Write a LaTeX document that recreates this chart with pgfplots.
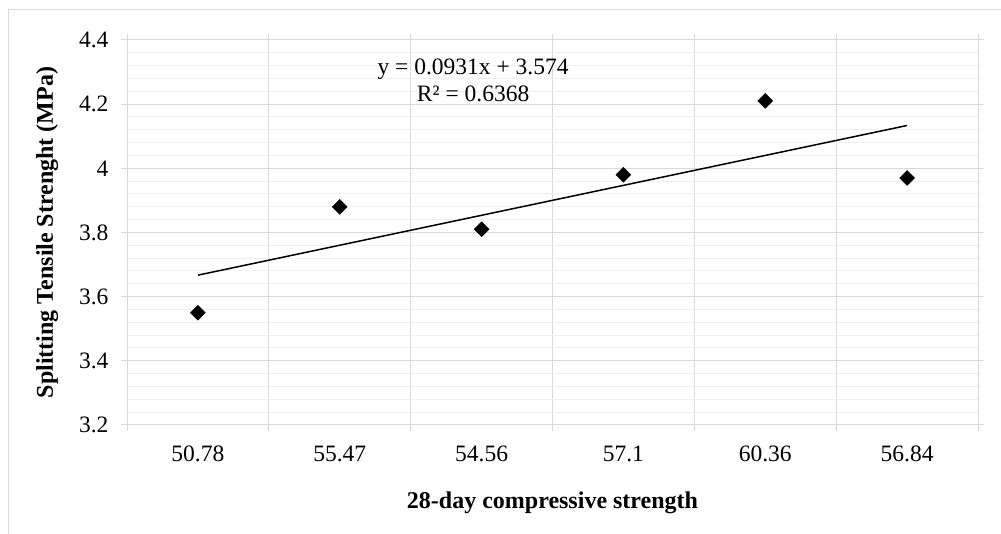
\documentclass[border=0pt]{standalone}
\usepackage{fontspec}
\setmainfont{Liberation Serif}
\usepackage{pgfplots}
\pgfplotsset{compat=1.18}
\definecolor{gridmaj}{HTML}{D9D9D9}
\definecolor{gridmin}{HTML}{EFEFEF}
\begin{document}
\begin{tikzpicture}[x=1pt,y=1pt]
\useasboundingbox (0,0) rectangle (1001,534);
\draw[gridmaj, line width=1pt] (8,0) -- (8,524) -- (1001,524);
\begin{axis}[
  at={(127pt,109pt)}, anchor=south west,
  scale only axis, width=851pt, height=385pt,
  xmin=0.5, xmax=6.5, ymin=3.2, ymax=4.4,
  xtick={0.5,1.5,2.5,3.5,4.5,5.5,6.5},
  xticklabels={50.78,55.47,54.56,57.1,60.36,56.84},
  x tick label as interval,
  ytick={3.2,3.4,3.6,3.8,4,4.2,4.4},
  minor y tick num=4,
  xmajorgrids, ymajorgrids, yminorgrids,
  major grid style={gridmaj, line width=1pt},
  minor grid style={gridmin, line width=1pt},
  axis line style={gridmaj, line width=1pt},
  tick style={gridmaj, line width=1pt},
  tick align=outside, major tick length=6pt, minor tick length=0pt,
  /pgf/number format/assume math mode=true,
  tick label style={font=\fontsize{23.5}{28}\selectfont, black},
  xticklabel style={anchor=base, yshift=-31pt},
  yticklabel style={xshift=-9pt},
  label style={font=\fontsize{24}{28}\selectfont\bfseries},
  xlabel={28-day compressive strength},
  ylabel={Splitting Tensile Strenght (MPa)},
  xlabel style={at={(axis description cs:0.5,-0.218)}, anchor=base},
  ylabel style={at={(axis description cs:-0.087,0.5)}, anchor=base},
  clip=false,
]
\addplot[only marks, mark=square*, mark size=5.3pt, mark options={rotate=45, fill=black, draw=black}]
  coordinates {(1,3.55) (2,3.88) (3,3.81) (4,3.98) (5,4.21) (6,3.97)};
\addplot[black, line width=1.5pt] coordinates {(1,3.667) (6,4.1335)};
\node[anchor=base, font=\fontsize{23.5}{28}\selectfont] at (axis cs:2.94,4.291) {y = 0.0931x + 3.574};
\node[anchor=base, font=\fontsize{23.5}{28}\selectfont] at (axis cs:2.94,4.207) {R² = 0.6368};
\end{axis}
\end{tikzpicture}
\end{document}
